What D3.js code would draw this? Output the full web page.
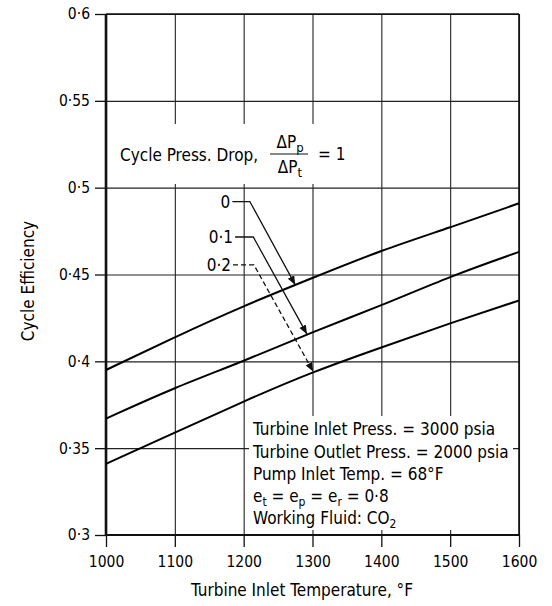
<!DOCTYPE html>
<html>
<head>
<meta charset="utf-8">
<script src="https://cdn.jsdelivr.net/npm/d3@7"></script>
<style>
    body { margin: 0; background: #fff; }
    #chartDiv { width: 552px; height: 606px; }
    text { font-family: "DejaVu Sans Condensed", "Liberation Sans Narrow", "Liberation Sans", sans-serif; fill: #000; }
    .grid line { stroke: #222; stroke-width: 1.1; }
    .grid .domain { display: none; }
    .axis .domain { display: none; }
    .axis line { stroke: #111; stroke-width: 1.3; }
    .axis text { font-size: 15.5px; }
    .curve { fill: none; stroke: #000; stroke-width: 2; }
    .leader { fill: none; stroke: #111; stroke-width: 1.3; }
</style>
</head>
<body>
<div id="chartDiv"></div>
<script>
// turbine inlet temperature, F
const temps = [1000, 1100, 1200, 1300, 1400, 1500, 1600];
// cycle efficiency for each cycle press. drop
const effDrop0 = [0.395, 0.414, 0.432, 0.448, 0.464, 0.477, 0.491];
const effDrop01 = [0.367, 0.385, 0.400, 0.417, 0.432, 0.449, 0.463];
const effDrop02 = [0.341, 0.359, 0.377, 0.394, 0.408, 0.422, 0.435];

const yTicks = [0.3, 0.35, 0.4, 0.45, 0.5, 0.55, 0.6];
const yTickLabels = ["0·3", "0·35", "0·4", "0·45", "0·5", "0·55", "0·6"];
const xTicks = [1000, 1100, 1200, 1300, 1400, 1500, 1600];

// curve labels and leader lines (label end, bend, arrow target temp)
const curveLabels = ["0", "0·1", "0·2"];
const labelEff = [0.492, 0.4716, 0.4555];
const labelTemp = [1185, 1189, 1186];
const bendTemp = [1209, 1214, 1215];
const arrowTemp = [1275, 1292, 1301];

let chartDiv = document.getElementById("chartDiv");
let width = 552;
let height = 606;

const margin = {top: 14, right: 33, bottom: 71, left: 106};

let svg = d3.select(chartDiv).append("svg")
    .attr("width", width)
    .attr("height", height);

let x = d3.scaleLinear()
    .domain([1000, 1600])
    .range([margin.left, width - margin.right]);

let y = d3.scaleLinear()
    .domain([0.3, 0.6])
    .range([height - margin.bottom, margin.top]);

// grid
svg.append("g")
    .attr("class", "grid")
    .attr("transform", `translate(${margin.left},0)`)
    .call(d3.axisLeft(y).tickValues(yTicks).tickSize(-(x.range()[1] - x.range()[0])).tickFormat(""));

svg.append("g")
    .attr("class", "grid")
    .attr("transform", `translate(0,${height - margin.bottom})`)
    .call(d3.axisBottom(x).tickValues(xTicks).tickSize(-(y.range()[0] - y.range()[1])).tickFormat(""));

// white patches behind the text blocks
svg.append("rect")
    .attr("x", 116).attr("y", 124)
    .attr("width", 232).attr("height", 60)
    .style("fill", "#fff");

svg.append("rect")
    .attr("x", 249).attr("y", 416)
    .attr("width", 264).attr("height", 114)
    .style("fill", "#fff");

// frame
svg.append("line")
    .attr("x1", x(1000)).attr("x2", x(1000))
    .attr("y1", y(0.6)).attr("y2", y(0.3))
    .style("stroke", "#111").style("stroke-width", 2.6);
svg.append("line")
    .attr("x1", x(1000)).attr("x2", x(1600))
    .attr("y1", y(0.3)).attr("y2", y(0.3))
    .style("stroke", "#111").style("stroke-width", 1.8);
svg.append("line")
    .attr("x1", x(1600)).attr("x2", x(1600))
    .attr("y1", y(0.6)).attr("y2", y(0.3))
    .style("stroke", "#111").style("stroke-width", 1.6);
svg.append("line")
    .attr("x1", x(1000)).attr("x2", x(1600))
    .attr("y1", y(0.6)).attr("y2", y(0.6))
    .style("stroke", "#111").style("stroke-width", 1.6);

// axes
svg.append("g")
    .attr("class", "axis")
    .attr("transform", `translate(${margin.left},0)`)
    .call(d3.axisLeft(y).tickValues(yTicks).tickSize(11).tickPadding(5)
        .tickFormat((d, i) => yTickLabels[i]));

svg.append("g")
    .attr("class", "axis")
    .attr("transform", `translate(0,${height - margin.bottom})`)
    .call(d3.axisBottom(x).tickValues(xTicks).tickSize(12).tickPadding(9)
        .tickFormat(d3.format("d")));

// curves
let line = d3.line()
    .x(d => x(d[0]))
    .y(d => y(d[1]))
    .curve(d3.curveBasis);

const series = [effDrop0, effDrop01, effDrop02];

svg.selectAll("path.curve")
    .data(series)
    .enter()
    .append("path")
    .attr("class", "curve")
    .attr("d", s => line(temps.map((t, i) => [t, s[i]])));

// arrowhead
svg.append("defs").append("marker")
    .attr("id", "arrow")
    .attr("viewBox", "0 0 10 10")
    .attr("refX", 10).attr("refY", 5)
    .attr("markerUnits", "userSpaceOnUse")
    .attr("markerWidth", 9).attr("markerHeight", 9)
    .attr("orient", "auto")
    .append("path")
    .attr("d", "M0,1L10,5L0,9Z")
    .style("fill", "#111");

// value on a curve for a leader target
function effAt(s, t) {
    return d3.scaleLinear().domain(temps).range(s)(t);
}

curveLabels.forEach((lab, i) => {
    svg.append("text")
        .attr("x", x(labelTemp[i]) - 3)
        .attr("y", y(labelEff[i]))
        .attr("dy", "0.35em")
        .style("text-anchor", "end")
        .style("font-size", "17px")
        .text(lab);

    svg.append("path")
        .attr("class", "leader")
        .attr("d", d3.line()([
            [x(labelTemp[i]) - 1, y(labelEff[i])],
            [x(bendTemp[i]), y(labelEff[i])],
            [x(arrowTemp[i]), y(effAt(series[i], arrowTemp[i]))]
        ]))
        .style("stroke-dasharray", i == 2 ? "5,3" : null)
        .attr("marker-end", "url(#arrow)");
});

// legend title
svg.append("text")
    .attr("x", 120)
    .attr("y", 161)
    .style("font-size", "17px")
    .text("Cycle Press. Drop,");

let num = svg.append("text")
    .attr("x", 290).attr("y", 148)
    .style("text-anchor", "middle")
    .style("font-size", "17px");
num.append("tspan").text("ΔP");
num.append("tspan").attr("dy", 4).style("font-size", "13px").text("p");

let den = svg.append("text")
    .attr("x", 290).attr("y", 173)
    .style("text-anchor", "middle")
    .style("font-size", "17px");
den.append("tspan").text("ΔP");
den.append("tspan").attr("dy", 4).style("font-size", "13px").text("t");

svg.append("line")
    .attr("x1", 270).attr("x2", 308)
    .attr("y1", 154).attr("y2", 154)
    .style("stroke", "#111").style("stroke-width", 1);

svg.append("text")
    .attr("x", 318).attr("y", 160)
    .style("font-size", "17px")
    .text("= 1");

// conditions block
let notes = svg.append("g").style("font-size", "17px");
const noteY = [435, 458, 480, 502, 524];

notes.append("text").attr("x", 253).attr("y", noteY[0]).text("Turbine Inlet Press. = 3000 psia");
notes.append("text").attr("x", 253).attr("y", noteY[1]).text("Turbine Outlet Press. = 2000 psia");
notes.append("text").attr("x", 253).attr("y", noteY[2]).text("Pump Inlet Temp. = 68°F");

let eff = notes.append("text").attr("x", 253).attr("y", noteY[3]);
eff.append("tspan").text("e");
eff.append("tspan").attr("dy", 4).style("font-size", "12px").text("t");
eff.append("tspan").attr("dy", -4).text(" = e");
eff.append("tspan").attr("dy", 4).style("font-size", "12px").text("p");
eff.append("tspan").attr("dy", -4).text(" = e");
eff.append("tspan").attr("dy", 4).style("font-size", "12px").text("r");
eff.append("tspan").attr("dy", -4).text(" = 0·8");

let fluid = notes.append("text").attr("x", 253).attr("y", noteY[4]);
fluid.append("tspan").text("Working Fluid:  CO");
fluid.append("tspan").attr("dy", 4).style("font-size", "12px").text("2");

// axis titles
svg.append("text")
    .attr("x", 302)
    .attr("y", 596)
    .style("text-anchor", "middle")
    .style("font-size", "17px")
    .text("Turbine Inlet Temperature, °F");

svg.append("text")
    .attr("transform", "translate(34,281) rotate(-90)")
    .style("text-anchor", "middle")
    .style("font-size", "17px")
    .text("Cycle Efficiency");
</script>
</body>
</html>
